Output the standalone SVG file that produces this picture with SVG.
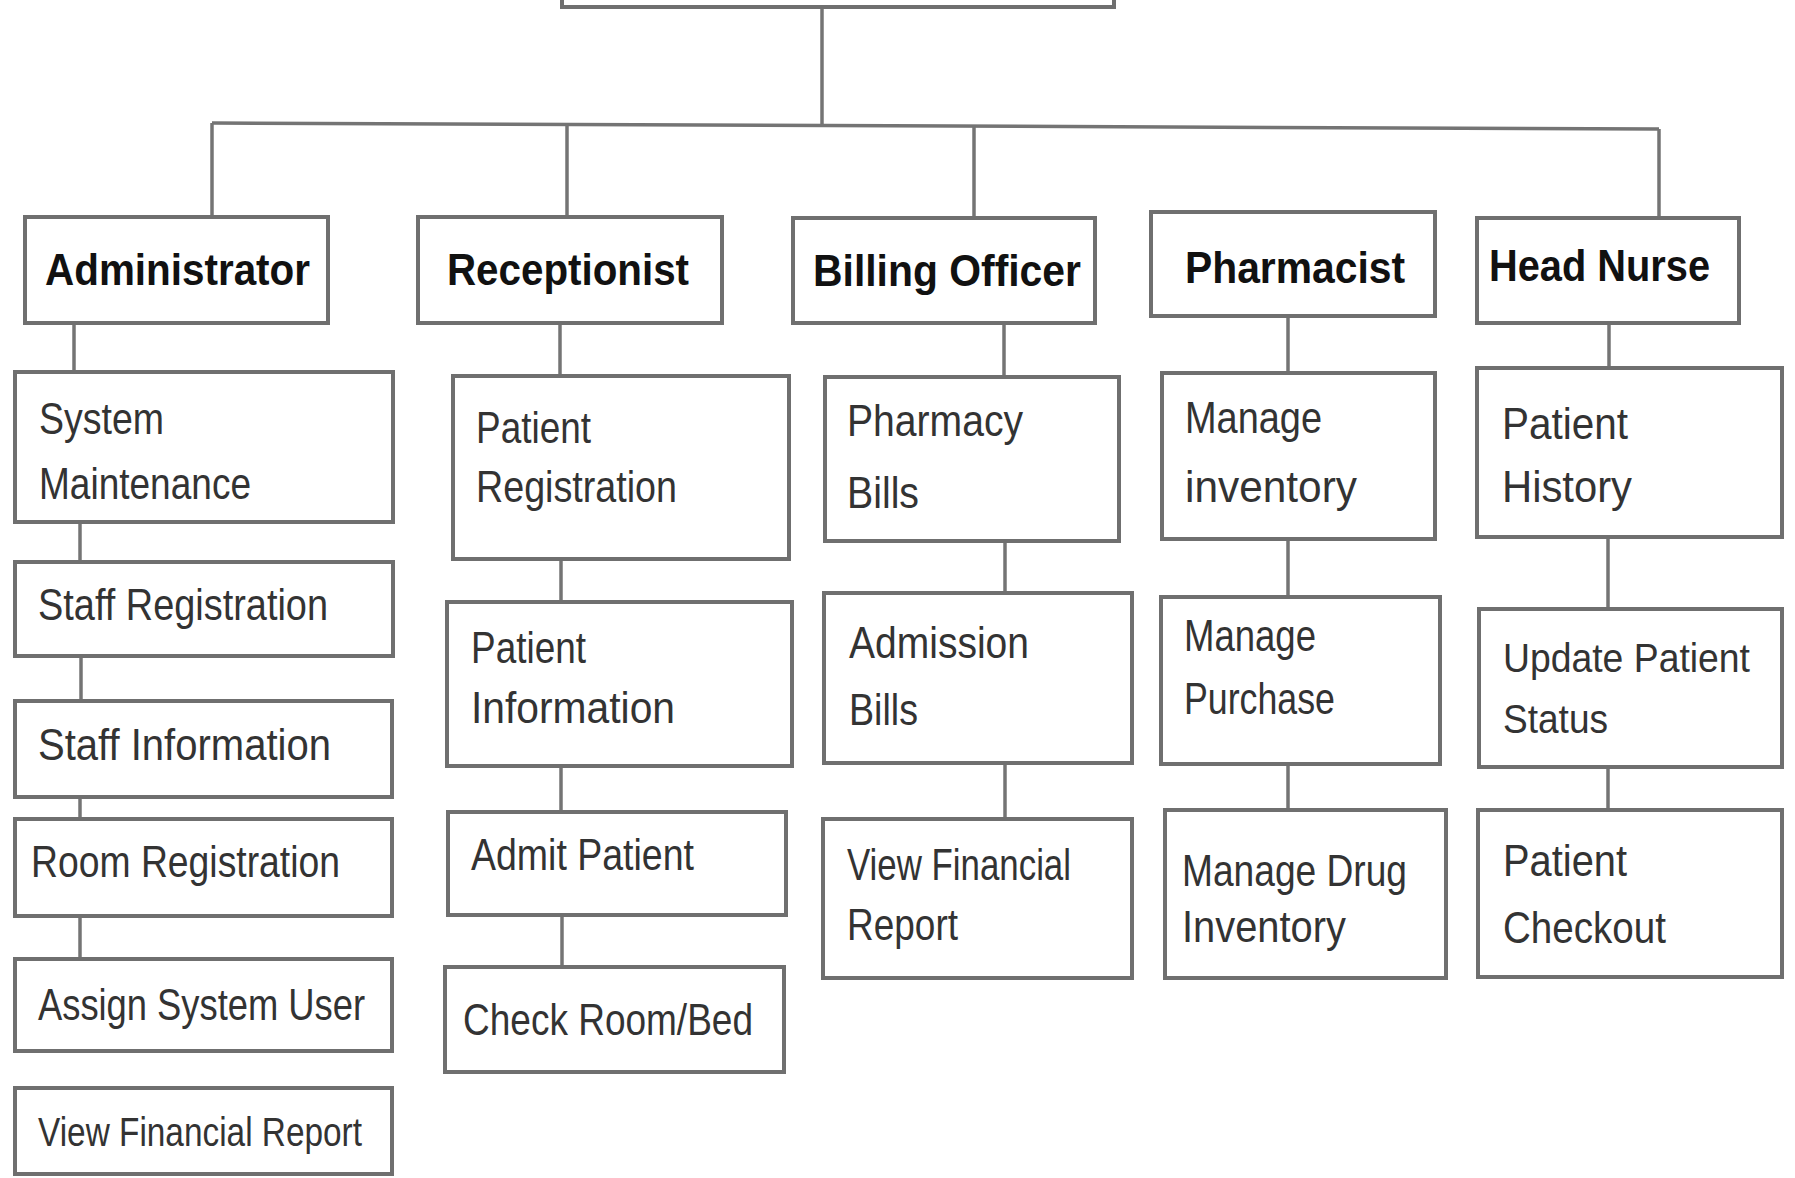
<svg xmlns="http://www.w3.org/2000/svg" width="1795" height="1178" viewBox="0 0 1795 1178">
<style>
.bg{fill:#ffffff}
.box{fill:#ffffff;stroke:#6f6f6f;stroke-width:4}
.con{fill:none;stroke:#747474;stroke-width:3.5}
.h{font-family:"Liberation Sans",Arial,sans-serif;font-weight:bold;font-size:45px;fill:#111111}
.t{font-family:"Liberation Sans",Arial,sans-serif;font-size:45px;fill:#333333}
.s{font-family:"Liberation Sans",Arial,sans-serif;font-size:40px;fill:#333333}
</style>
<rect class="bg" x="0" y="0" width="1795" height="1178"/>
<g id="connectors">
<path class="con" d="M822,9 V125.5"/>
<path class="con" d="M212,123 L1659,129"/>
<path class="con" d="M212,123 V215"/>
<path class="con" d="M567,124.5 V215"/>
<path class="con" d="M974,126.2 V216"/>
<path class="con" d="M1659,129 V216"/>
<path class="con" d="M74,325 V370"/>
<path class="con" d="M80,524 V560"/>
<path class="con" d="M81,658 V699"/>
<path class="con" d="M80,799 V817"/>
<path class="con" d="M80,918 V957"/>
<path class="con" d="M560,325 V374"/>
<path class="con" d="M561,561 V600"/>
<path class="con" d="M561,768 V810"/>
<path class="con" d="M562,917 V965"/>
<path class="con" d="M1004,325 V375"/>
<path class="con" d="M1005,543 V591"/>
<path class="con" d="M1005,765 V817"/>
<path class="con" d="M1288,318 V371"/>
<path class="con" d="M1288,541 V595"/>
<path class="con" d="M1288,766 V808"/>
<path class="con" d="M1609,325 V366"/>
<path class="con" d="M1608,539 V607"/>
<path class="con" d="M1608,769 V808"/>
</g>
<g id="root"><rect class="box" x="562" y="-20" width="552" height="27"/></g>
<g id="administrator"><rect class="box" x="25" y="217" width="303" height="106"/><text class="h" x="45" y="285" textLength="265" lengthAdjust="spacingAndGlyphs">Administrator</text></g>
<g id="receptionist"><rect class="box" x="418" y="217" width="304" height="106"/><text class="h" x="447" y="285" textLength="242" lengthAdjust="spacingAndGlyphs">Receptionist</text></g>
<g id="billing-officer"><rect class="box" x="793" y="218" width="302" height="105"/><text class="h" x="813" y="286" textLength="268" lengthAdjust="spacingAndGlyphs">Billing Officer</text></g>
<g id="pharmacist"><rect class="box" x="1151" y="212" width="284" height="104"/><text class="h" x="1185" y="283" textLength="220" lengthAdjust="spacingAndGlyphs">Pharmacist</text></g>
<g id="head-nurse"><rect class="box" x="1477" y="218" width="262" height="105"/><text class="h" x="1489" y="281" textLength="221" lengthAdjust="spacingAndGlyphs">Head Nurse</text></g>

<g id="system-maintenance"><rect class="box" x="15" y="372" width="378" height="150"/><text class="t" x="39" y="434" textLength="125" lengthAdjust="spacingAndGlyphs">System</text><text class="t" x="39" y="499" textLength="212" lengthAdjust="spacingAndGlyphs">Maintenance</text></g>
<g id="staff-registration"><rect class="box" x="15" y="562" width="378" height="94"/><text class="t" x="38" y="620" textLength="290" lengthAdjust="spacingAndGlyphs">Staff Registration</text></g>
<g id="staff-information"><rect class="box" x="15" y="701" width="377" height="96"/><text class="t" x="38" y="760" textLength="293" lengthAdjust="spacingAndGlyphs">Staff Information</text></g>
<g id="room-registration"><rect class="box" x="15" y="819" width="377" height="97"/><text class="t" x="31" y="877" textLength="309" lengthAdjust="spacingAndGlyphs">Room Registration</text></g>
<g id="assign-system-user"><rect class="box" x="15" y="959" width="377" height="92"/><text class="t" x="38" y="1020" textLength="327" lengthAdjust="spacingAndGlyphs">Assign System User</text></g>
<g id="admin-view-financial-report"><rect class="box" x="15" y="1088" width="377" height="86"/><text class="s" x="38" y="1146" textLength="324" lengthAdjust="spacingAndGlyphs">View Financial Report</text></g>

<g id="patient-registration"><rect class="box" x="453" y="376" width="336" height="183"/><text class="t" x="476" y="443" textLength="115" lengthAdjust="spacingAndGlyphs">Patient</text><text class="t" x="476" y="502" textLength="201" lengthAdjust="spacingAndGlyphs">Registration</text></g>
<g id="patient-information"><rect class="box" x="447" y="602" width="345" height="164"/><text class="t" x="471" y="663" textLength="115" lengthAdjust="spacingAndGlyphs">Patient</text><text class="t" x="471" y="723" textLength="204" lengthAdjust="spacingAndGlyphs">Information</text></g>
<g id="admit-patient"><rect class="box" x="448" y="812" width="338" height="103"/><text class="t" x="471" y="870" textLength="223" lengthAdjust="spacingAndGlyphs">Admit Patient</text></g>
<g id="check-room-bed"><rect class="box" x="445" y="967" width="339" height="105"/><text class="t" x="463" y="1035" textLength="290" lengthAdjust="spacingAndGlyphs">Check Room/Bed</text></g>

<g id="pharmacy-bills"><rect class="box" x="825" y="377" width="294" height="164"/><text class="t" x="847" y="436" textLength="176" lengthAdjust="spacingAndGlyphs">Pharmacy</text><text class="t" x="847" y="508" textLength="72" lengthAdjust="spacingAndGlyphs">Bills</text></g>
<g id="admission-bills"><rect class="box" x="824" y="593" width="308" height="170"/><text class="t" x="849" y="658" textLength="180" lengthAdjust="spacingAndGlyphs">Admission</text><text class="t" x="849" y="725" textLength="69" lengthAdjust="spacingAndGlyphs">Bills</text></g>
<g id="billing-view-financial-report"><rect class="box" x="823" y="819" width="309" height="159"/><text class="t" x="847" y="880" textLength="224" lengthAdjust="spacingAndGlyphs">View Financial</text><text class="t" x="847" y="940" textLength="111" lengthAdjust="spacingAndGlyphs">Report</text></g>

<g id="manage-inventory"><rect class="box" x="1162" y="373" width="273" height="166"/><text class="t" x="1185" y="433" textLength="137" lengthAdjust="spacingAndGlyphs">Manage</text><text class="t" x="1185" y="502" textLength="172" lengthAdjust="spacingAndGlyphs">inventory</text></g>
<g id="manage-purchase"><rect class="box" x="1161" y="597" width="279" height="167"/><text class="t" x="1184" y="651" textLength="132" lengthAdjust="spacingAndGlyphs">Manage</text><text class="t" x="1184" y="714" textLength="151" lengthAdjust="spacingAndGlyphs">Purchase</text></g>
<g id="manage-drug-inventory"><rect class="box" x="1165" y="810" width="281" height="168"/><text class="t" x="1182" y="886" textLength="225" lengthAdjust="spacingAndGlyphs">Manage Drug</text><text class="t" x="1182" y="942" textLength="164" lengthAdjust="spacingAndGlyphs">Inventory</text></g>

<g id="patient-history"><rect class="box" x="1477" y="368" width="305" height="169"/><text class="t" x="1502" y="439" textLength="126" lengthAdjust="spacingAndGlyphs">Patient</text><text class="t" x="1502" y="502" textLength="130" lengthAdjust="spacingAndGlyphs">History</text></g>
<g id="update-patient-status"><rect class="box" x="1479" y="609" width="303" height="158"/><text class="s" x="1503" y="672" textLength="247" lengthAdjust="spacingAndGlyphs">Update Patient</text><text class="s" x="1503" y="733" textLength="105" lengthAdjust="spacingAndGlyphs">Status</text></g>
<g id="patient-checkout"><rect class="box" x="1478" y="810" width="304" height="167"/><text class="t" x="1503" y="876" textLength="124" lengthAdjust="spacingAndGlyphs">Patient</text><text class="t" x="1503" y="943" textLength="163" lengthAdjust="spacingAndGlyphs">Checkout</text></g>
</svg>
